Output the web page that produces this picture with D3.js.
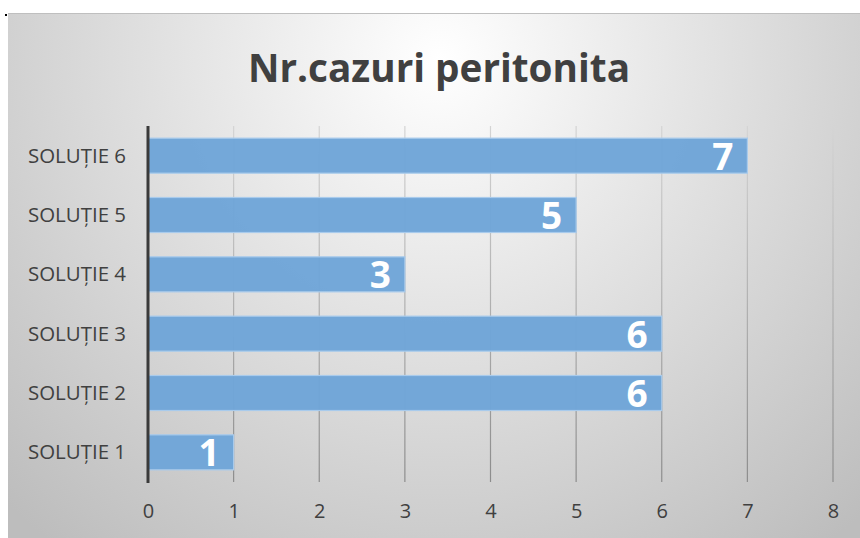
<!DOCTYPE html>
<html lang="ro">
<head>
<meta charset="UTF-8">
<title>Nr.cazuri peritonita</title>
<script src="https://cdn.jsdelivr.net/npm/d3@7"></script>
<style>
  body { margin: 0; background: #fff; }
  svg { display: block; }
</style>
</head>
<body>
<div id="chart"></div>
<script>
// date
var categorii = ["SOLUȚIE 1", "SOLUȚIE 2", "SOLUȚIE 3", "SOLUȚIE 4", "SOLUȚIE 5", "SOLUȚIE 6"];
var valori = [1, 6, 6, 3, 5, 7];
var tickuri = [0, 1, 2, 3, 4, 5, 6, 7, 8];
var titlu = "Nr.cazuri peritonita";

var W = 860, H = 538;
var svg = d3.select("#chart").append("svg").attr("width", W).attr("height", H);

var defs = svg.append("defs");
var bg = defs.append("radialGradient").attr("id", "bg")
  .attr("gradientUnits", "userSpaceOnUse")
  .attr("cx", 440).attr("cy", 60).attr("r", 620);
bg.append("stop").attr("offset", "0").attr("stop-color", "#ffffff");
bg.append("stop").attr("offset", "1").attr("stop-color", "#bdbdbd");

var gl = defs.append("linearGradient").attr("id", "grid")
  .attr("gradientUnits", "userSpaceOnUse")
  .attr("x1", 0).attr("y1", 126).attr("x2", 0).attr("y2", 482);
gl.append("stop").attr("offset", "0").attr("stop-color", "#d4d4d4");
gl.append("stop").attr("offset", "1").attr("stop-color", "#8c8c8c");

// fundal
svg.append("rect").attr("x", 8).attr("y", 13).attr("width", W - 8).attr("height", H - 13)
  .attr("fill", "url(#bg)");
svg.append("line").attr("x1", 8).attr("x2", W).attr("y1", 13.5).attr("y2", 13.5)
  .attr("stroke", "#bfbfbf").attr("stroke-width", 1);
svg.append("rect").attr("x", 5).attr("y", 14).attr("width", 2).attr("height", 2).attr("fill", "#000");

var x = d3.scaleLinear().domain([0, 8]).range([148, 833]);
var y = d3.scaleBand().domain(categorii.slice().reverse()).range([126, 482]).paddingInner(0.41).paddingOuter(0.205);

// titlu
svg.append("text").attr("x", 439).attr("y", 82)
  .attr("text-anchor", "middle")
  .attr("font-family", "'Open Sans', sans-serif").attr("font-weight", 700)
  .attr("font-size", 40).attr("fill", "#404040")
  .attr("textLength", 382).attr("lengthAdjust", "spacingAndGlyphs")
  .text(titlu);

// linii grila
svg.append("g").selectAll("line").data(tickuri.slice(1)).enter().append("line")
  .attr("x1", function(d) { return x(d); }).attr("x2", function(d) { return x(d); })
  .attr("y1", 126).attr("y2", 482)
  .attr("stroke", "url(#grid)").attr("stroke-width", 1.2);

// bare
svg.append("g").selectAll("rect").data(valori).enter().append("rect")
  .attr("x", x(0))
  .attr("y", function(d, i) { return y(categorii[i]); })
  .attr("width", function(d) { return x(d) - x(0); })
  .attr("height", y.bandwidth())
  .attr("fill", "#6fa5d8").attr("fill-opacity", 0.97)
  .attr("stroke", "#a9cbec").attr("stroke-width", 1.2);

// etichete valori
svg.append("g").selectAll("text").data(valori).enter().append("text")
  .attr("x", function(d) { return x(d) - 14; })
  .attr("y", function(d, i) { return y(categorii[i]) + y.bandwidth() / 2 + 14; })
  .attr("text-anchor", "end")
  .attr("font-family", "'Open Sans', sans-serif").attr("font-weight", 700)
  .attr("font-size", 37).attr("fill", "#ffffff")
  .text(function(d) { return d; });

// axa y
var yAxis = d3.axisLeft(y).tickSize(0).tickPadding(22);
var gy = svg.append("g").attr("transform", "translate(" + x(0) + ",0)").call(yAxis);
gy.select(".domain").remove();
gy.selectAll("text").attr("font-family", "'Open Sans', sans-serif").attr("font-size", 20)
  .attr("fill", "#404040").attr("dy", "0.35em")
  .attr("textLength", 98).attr("lengthAdjust", "spacingAndGlyphs");
svg.append("line").attr("x1", x(0)).attr("x2", x(0)).attr("y1", 126).attr("y2", 483)
  .attr("stroke", "#3a3a3a").attr("stroke-width", 3);

// axa x
var xAxis = d3.axisBottom(x).tickValues(tickuri).tickSize(0).tickPadding(22).tickFormat(d3.format("d"));
var gx = svg.append("g").attr("transform", "translate(0,482)").call(xAxis);
gx.select(".domain").remove();
gx.selectAll("text").attr("font-family", "'Open Sans', sans-serif").attr("font-size", 20)
  .attr("fill", "#404040");
</script>
</body>
</html>
